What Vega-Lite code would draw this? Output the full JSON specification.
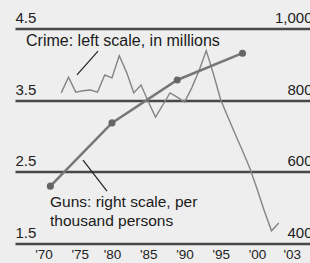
{
  "$schema": "https://vega.github.io/schema/vega-lite/v6.json",
  "autosize": {"type": "none"},
  "width": 295,
  "height": 214.5,
  "padding": {"left": 15, "top": 28.5, "right": 0, "bottom": 20},
  "background": "#eeeeee",
  "config": {
    "view": {"stroke": null},
    "font": "Liberation Sans",
    "axis": {"labelFont": "Liberation Sans", "labelColor": "#222222", "domain": false, "ticks": false, "title": null}
  },
  "datasets": {
    "crime": [
      {"year": 1973, "crime": 3.60}, {"year": 1974, "crime": 3.82}, {"year": 1975, "crime": 3.61},
      {"year": 1976, "crime": 3.63}, {"year": 1977, "crime": 3.64}, {"year": 1978, "crime": 3.61},
      {"year": 1979, "crime": 3.85}, {"year": 1980, "crime": 3.81}, {"year": 1981, "crime": 4.12},
      {"year": 1982, "crime": 3.89}, {"year": 1983, "crime": 3.60}, {"year": 1984, "crime": 3.71},
      {"year": 1985, "crime": 3.48}, {"year": 1986, "crime": 3.26}, {"year": 1987, "crime": 3.43},
      {"year": 1988, "crime": 3.60}, {"year": 1989, "crime": 3.54}, {"year": 1990, "crime": 3.47},
      {"year": 1991, "crime": 3.67}, {"year": 1992, "crime": 3.91}, {"year": 1993, "crime": 4.19},
      {"year": 1994, "crime": 3.86}, {"year": 1995, "crime": 3.50}, {"year": 1996, "crime": 3.26},
      {"year": 1997, "crime": 3.02}, {"year": 1998, "crime": 2.79}, {"year": 1999, "crime": 2.55},
      {"year": 2000, "crime": 2.26}, {"year": 2001, "crime": 1.95}, {"year": 2002, "crime": 1.67},
      {"year": 2003, "crime": 1.78}
    ],
    "guns": [
      {"year": 1971.5, "guns": 559}, {"year": 1980, "guns": 736}, {"year": 1989, "guns": 856}, {"year": 1998, "guns": 931}
    ]
  },
  "layer": [
    {
      "layer": [
        {
          "data": {"name": "crime"},
          "mark": {"type": "line", "stroke": "#858585", "strokeWidth": 1.4},
          "encoding": {
            "x": {"field": "year", "type": "quantitative",
              "scale": {"domain": [1966.62, 2007.31], "nice": false, "zero": false},
              "axis": {"orient": "bottom", "values": [1970, 1975, 1980, 1985, 1990, 1995, 2000, 2003],
                "labelExpr": "\"'\" + substring(toString(datum.value), 2)",
                "grid": false, "labelFontSize": 13.5, "labelPadding": 4, "labelFlush": false,
                "labelOffset": {"condition": [{"test": "datum.value == 2003", "value": 13}, {"test": "datum.value <= 1975", "value": 4}], "value": 0}}},
            "y": {"field": "crime", "type": "quantitative",
              "scale": {"domain": [1.5, 4.5], "nice": false, "zero": false},
              "axis": {"orient": "left", "values": [1.5, 2.5, 3.5, 4.5], "format": ".1f",
                "grid": true, "gridColor": "#484848", "gridWidth": 2.5,
                "labelAlign": "left", "labelBaseline": "alphabetic", "labelPadding": 0, "labelOffset": -6,
                "labelFontSize": 15}}
          }
        },
        {
          "data": {"values": [{"x1": 1978.07, "y1": 4.185, "x2": 1975.17, "y2": 3.85}]},
          "mark": {"type": "rule", "stroke": "#222222", "strokeWidth": 1.2},
          "encoding": {
            "x": {"field": "x1", "type": "quantitative"},
            "x2": {"field": "x2"},
            "y": {"field": "y1", "type": "quantitative"},
            "y2": {"field": "y2"}
          }
        },
        {
          "data": {"values": [{"x": 1968.14, "y": 4.255, "label": "Crime: left scale, in millions"}]},
          "mark": {"type": "text", "align": "left", "baseline": "alphabetic", "fontSize": 16, "color": "#1a1a1a"},
          "encoding": {
            "x": {"field": "x", "type": "quantitative"},
            "y": {"field": "y", "type": "quantitative"},
            "text": {"field": "label"}
          }
        }
      ]
    },
    {
      "layer": [
        {
          "data": {"name": "guns"},
          "mark": {"type": "line", "stroke": "#777777", "strokeWidth": 2.5,
            "point": {"filled": true, "size": 50, "color": "#666666"}},
          "encoding": {
            "x": {"field": "year", "type": "quantitative"},
            "y": {"field": "guns", "type": "quantitative",
              "scale": {"domain": [400, 1000], "nice": false, "zero": false},
              "axis": {"orient": "right", "values": [400, 600, 800, 1000],
                "labelExpr": "format(datum.value, ',')",
                "grid": false, "labelAlign": "right", "labelBaseline": "alphabetic", "labelPadding": 2,
                "labelOffset": -6, "labelFontSize": 15}}
          }
        },
        {
          "data": {"values": [{"x1": 1976.0, "y1": 632, "x2": 1979.31, "y2": 545}]},
          "mark": {"type": "rule", "stroke": "#222222", "strokeWidth": 1.2},
          "encoding": {
            "x": {"field": "x1", "type": "quantitative"},
            "x2": {"field": "x2"},
            "y": {"field": "y1", "type": "quantitative"},
            "y2": {"field": "y2"}
          }
        },
        {
          "data": {"values": [{"x": 1971.45, "y": 500.7, "label": ["Guns: right scale, per", "thousand persons"]}]},
          "mark": {"type": "text", "align": "left", "baseline": "alphabetic", "fontSize": 15.5, "lineHeight": 19, "color": "#1a1a1a"},
          "encoding": {
            "x": {"field": "x", "type": "quantitative"},
            "y": {"field": "y", "type": "quantitative"},
            "text": {"field": "label"}
          }
        }
      ]
    }
  ],
  "resolve": {"scale": {"y": "independent"}}
}
